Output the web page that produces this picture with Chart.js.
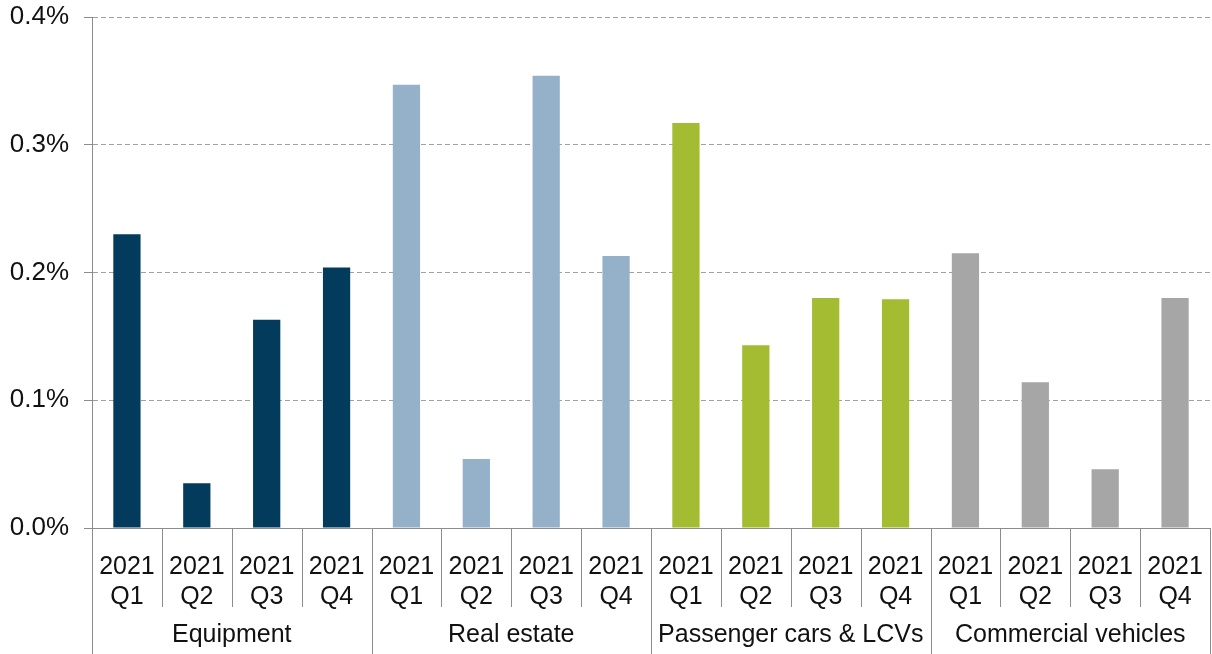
<!DOCTYPE html>
<html>
<head>
<meta charset="utf-8">
<script src="https://cdn.jsdelivr.net/npm/chart.js@4"></script>
<style>
  html, body { margin: 0; padding: 0; background: #fff; }
  #wrap { width: 1212px; height: 654px; }
</style>
</head>
<body>
<div id="wrap"><canvas id="myChart"></canvas></div>
<script>
const groups = ["Equipment", "Real estate", "Passenger cars & LCVs", "Commercial vehicles"];
const quarters = ["Q1", "Q2", "Q3", "Q4"];
const year = "2021";

// values in %
const equipment = [0.230, 0.035, 0.163, 0.204];
const realEstate = [0.347, 0.054, 0.354, 0.213];
const passengerCars = [0.317, 0.143, 0.180, 0.179];
const commercialVehicles = [0.215, 0.114, 0.046, 0.180];

const groupColors = ["#033b5d", "#94b1c9", "#a3bc31", "#a6a6a6"];

const series = [equipment, realEstate, passengerCars, commercialVehicles];
const labels = [];
const values = [];
const colors = [];
series.forEach((s, g) => {
    s.forEach((v, q) => {
        labels.push([year, quarters[q]]);
        values.push(v);
        colors.push(groupColors[g]);
    });
});

const lineColor = "#8c8c8c";
const font = "'Liberation Sans', Arial, sans-serif";

// separators under the axis + group names
const groupAxis = {
    id: "groupAxis",
    afterDraw(chart) {
        const ctx = chart.ctx;
        const x = chart.scales.x;
        const bottom = chart.chartArea.bottom;
        const n = labels.length;
        const half = (x.getPixelForValue(1) - x.getPixelForValue(0)) / 2;
        ctx.save();
        ctx.strokeStyle = lineColor;
        ctx.lineWidth = 1;
        for (let i = 0; i <= n; i++) {
            const px = Math.round(i < n ? x.getPixelForValue(i) - half : x.getPixelForValue(n - 1) + half) + 0.5;
            const end = i % 4 === 0 ? chart.height : bottom + 79;
            ctx.beginPath();
            ctx.moveTo(px, bottom);
            ctx.lineTo(px, end);
            ctx.stroke();
        }
        ctx.fillStyle = "#111";
        ctx.font = "25px " + font;
        ctx.textAlign = "center";
        ctx.textBaseline = "middle";
        groups.forEach((g, i) => {
            const c = (x.getPixelForValue(i * 4) + x.getPixelForValue(i * 4 + 3)) / 2;
            ctx.fillText(g, c, bottom + 107);
        });
        ctx.restore();
    }
};

const ctx = document.getElementById("myChart").getContext("2d");
const myChart = new Chart(ctx, {
    type: "bar",
    data: {
        labels: labels,
        datasets: [
            {
                data: values,
                backgroundColor: colors,
                barPercentage: 0.39,
                categoryPercentage: 1,
            },
        ],
    },
    options: {
        responsive: true,
        maintainAspectRatio: false,
        animation: false,
        layout: { padding: { top: 17, right: 2, left: 0, bottom: 0 } },
        plugins: {
            legend: { display: false },
            tooltip: { enabled: false },
        },
        scales: {
            x: {
                offset: true,
                grid: { display: false },
                border: { display: true, color: lineColor },
                ticks: {
                    color: "#111",
                    font: { family: font, size: 25, lineHeight: 1.2 },
                    padding: 16,
                    maxRotation: 0,
                    autoSkip: false,
                },
                afterFit(scale) {
                    scale.height = 126;
                    scale.paddingLeft = 0;
                    scale.paddingRight = 0;
                },
            },
            y: {
                min: 0,
                max: 0.4,
                ticks: {
                    stepSize: 0.1,
                    color: "#111",
                    font: { family: font, size: 26 },
                    padding: 15,
                    callback: (v) => v.toFixed(1) + "%",
                },
                grid: {
                    color: "#a0a0a0",
                    tickColor: lineColor,
                    tickLength: 8,
                },
                // in v4 the dash here applies to the grid lines
                border: { display: true, color: lineColor, dash: [5, 3] },
                afterFit(scale) {
                    scale.width = 92;
                    scale.paddingTop = 0;
                    scale.paddingBottom = 0;
                },
            },
        },
    },
    plugins: [groupAxis],
});
</script>
</body>
</html>
